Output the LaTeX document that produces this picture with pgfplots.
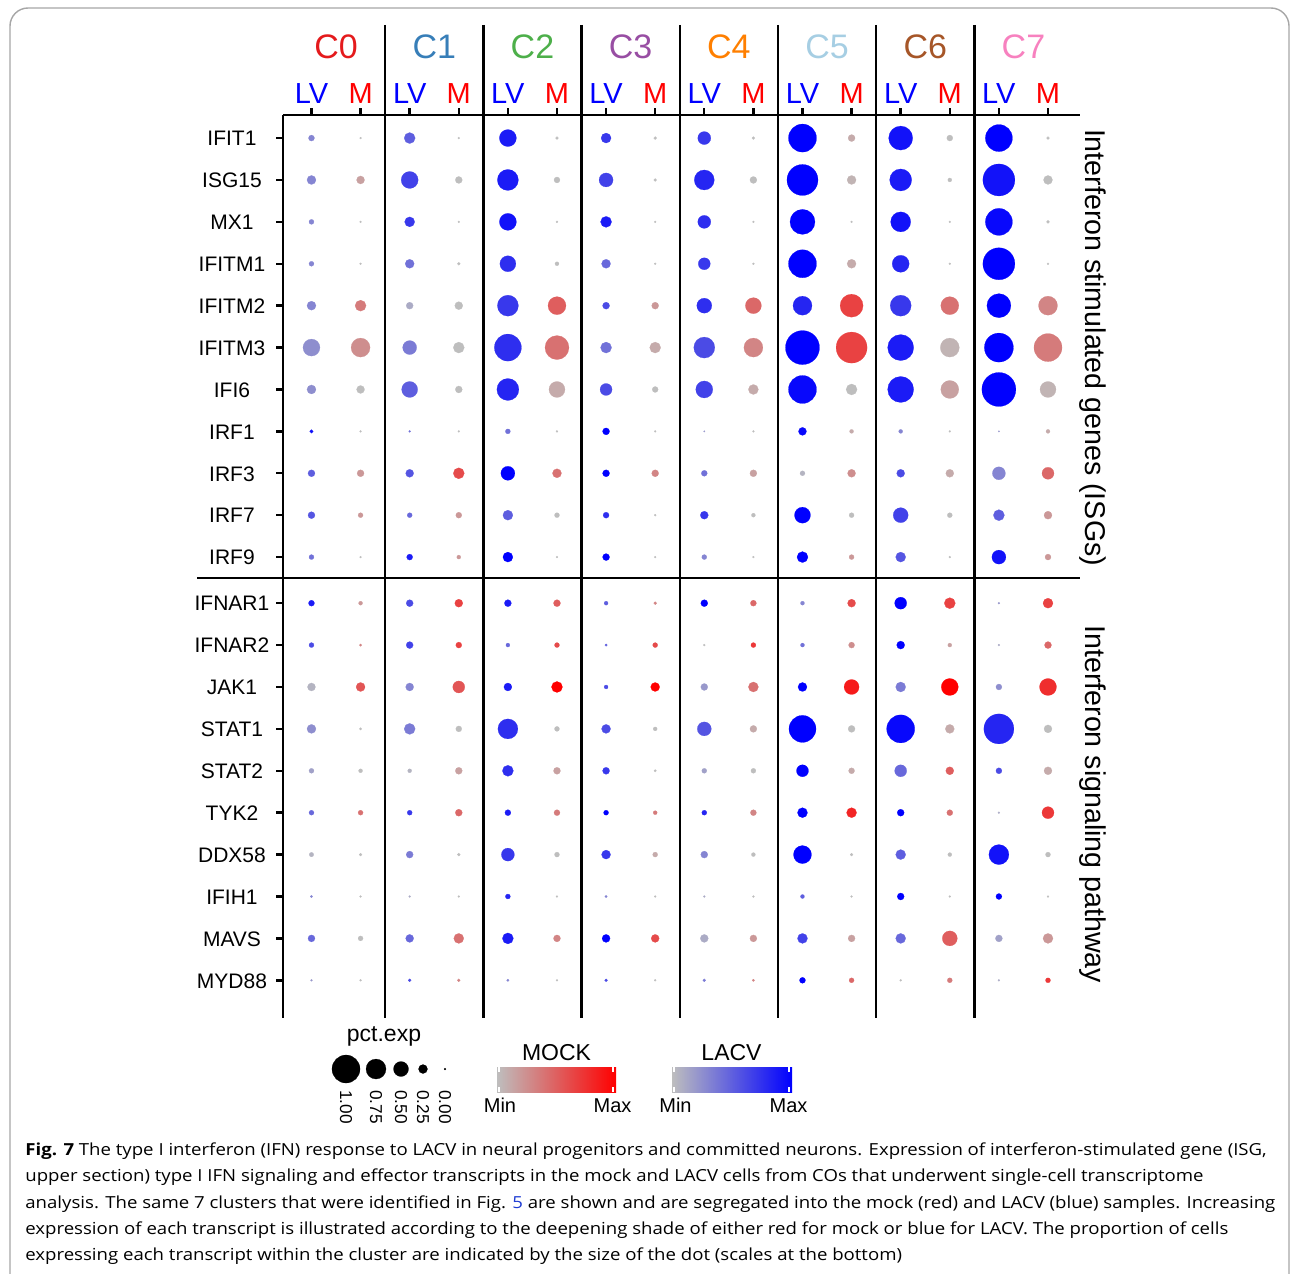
\documentclass[border=0pt]{standalone}
\usepackage{pgfplots}
\pgfplotsset{compat=1.18}
\usepackage{pgfplotstable}
\usepackage{fontspec}
\setmainfont{Liberation Sans}
\newfontfamily\capfont[FakeStretch=1.12]{Open Sans}
\definecolor{cc0}{RGB}{228,26,28}
\definecolor{cc1}{RGB}{55,126,184}
\definecolor{cc2}{RGB}{77,175,74}
\definecolor{cc3}{RGB}{152,78,163}
\definecolor{cc4}{RGB}{255,127,0}
\definecolor{cc5}{RGB}{166,206,227}
\definecolor{cc6}{RGB}{166,86,40}
\definecolor{cc7}{RGB}{247,129,191}
\definecolor{lvb}{RGB}{0,0,255}
\definecolor{mr}{RGB}{255,0,0}
\definecolor{gr}{RGB}{190,190,190}
\definecolor{linkblue}{RGB}{30,60,210}
\pgfplotsset{
  colormap={lvmap}{rgb255=(190,190,190) rgb255=(0,0,255)},
  colormap={mmap}{rgb255=(190,190,190) rgb255=(255,0,0)}
}
\tikzset{
  clab/.style={anchor=base, font=\fontsize{17}{20}\selectfont, inner sep=0pt},
  slab/.style={anchor=base, font=\fontsize{14.5}{17}\selectfont, inner sep=0pt},
  glab/.style={anchor=base, font=\fontsize{10.5}{12}\selectfont, inner sep=0pt, yshift=-3.9pt},
}
% r = row, cl = cluster, lvs/ms = dot diameter (px), lvc/mc = scaled expression (0..1)
\pgfplotstableread{
r cl lvs lvc ms mc
1 0 6 .3 2 0
1 1 11 .5 2 0
1 2 17 .85 3 0
1 3 10 .7 3 0
1 4 13 .7 3 0
1 5 28 1 7 .1
1 6 24 .9 6 0
1 7 27 1 3 0
2 0 9 .3 8 .15
2 1 17 .65 7 0
2 2 21 .85 6 0
2 3 14 .65 3 0
2 4 20 .8 7 0
2 5 31 1 9 .05
2 6 22 .85 4 0
2 7 32 .9 9 0
3 0 5 .3 2 0
3 1 10 .7 2 0
3 2 17 .9 2 0
3 3 11 .85 2 0
3 4 13 .75 2 0
3 5 25 1 2 0
3 6 20 .9 2 0
3 7 27 .95 3 0
4 0 5 .3 2 0
4 1 9 .4 3 0
4 2 16 .75 4 0
4 3 9 .45 2 0
4 4 12 .7 2 0
4 5 28 1 9 .1
4 6 17 .8 2 0
4 7 32 1 2 0
5 0 9 .3 11 .35
5 1 7 .1 8 0
5 2 21 .7 18 .5
5 3 7 .6 7 .2
5 4 15 .75 16 .45
5 5 19 .8 23 .65
5 6 21 .7 18 .4
5 7 24 1 19 .3
6 0 17 .25 19 .25
6 1 14 .35 11 0
6 2 27 .75 24 .4
6 3 11 .4 11 .1
6 4 21 .6 19 .3
6 5 34 1 31 .65
6 6 26 .85 19 .05
6 7 29 1 28 .35
7 0 9 .25 8 0
7 1 16 .5 7 0
7 2 22 .8 16 .1
7 3 12 .6 6 0
7 4 17 .65 10 .1
7 5 28 .95 11 0
7 6 26 .85 18 .15
7 7 34 1 16 .05
8 0 3.5 .9 2 0
8 1 2 .4 2 0
8 2 5 .4 2 0
8 3 7 1 2 0
8 4 1.5 .2 2 0
8 5 8 .95 4 .1
8 6 4 .3 2 0
8 7 1.5 .2 4 .1
9 0 7 .5 7 .2
9 1 8 .55 11 .6
9 2 14 1 9 .4
9 3 7 1 7 .3
9 4 6 .4 7 .15
9 5 5 .05 8 .25
9 6 8 .6 8 .1
9 7 13 .3 12 .45
10 0 7 .55 5 .2
10 1 5 .45 6 .2
10 2 10 .5 5 0
10 3 6 .75 2 0
10 4 8 .7 4 0
10 5 16 1 5 0
10 6 15 .65 5 0
10 7 11 .5 8 .2
11 0 5 .4 2 0
11 1 6 .85 4 .2
11 2 10 1 2 0
11 3 7 1 2 0
11 4 5 .3 2 0
11 5 11 1 5 .2
11 6 10 .55 2 0
11 7 14 .9 6 .2
12.1 0 6 .85 4 .2
12.1 1 7 .6 8 .65
12.1 2 7 .85 7 .5
12.1 3 4 .5 3 .3
12.1 4 7 1 6 .45
12.1 5 4 .3 8 .6
12.1 6 12 1 11 .65
12.1 7 2 .2 10 .65
13.1 0 5 .6 2.5 .3
13.1 1 7 .65 6 .65
13.1 2 4 .45 5 .6
13.1 3 2.5 .5 5 .6
13.1 4 2 0 5 .7
13.1 5 4 .4 6 .25
13.1 6 8 1 4 .15
13.1 7 2 .1 7 .45
14.1 0 8 .05 9 .55
14.1 1 8 .3 12 .55
14.1 2 8 .85 11 1
14.1 3 4 .6 9 1
14.1 4 7 .2 10 .4
14.1 5 9 1 15 .85
14.1 6 10 .35 17 1
14.1 7 6 .25 17 .75
15.1 0 9 .25 2.5 0
15.1 1 11 .35 6 0
15.1 2 20 .75 5 0
15.1 3 9 .6 4 0
15.1 4 14 .55 7 .1
15.1 5 27 1 7 0
15.1 6 28 .95 9 .1
15.1 7 30 .8 8 0
16.1 0 5 .15 4 0
16.1 1 4 .05 7 .15
16.1 2 11 .75 7 .15
16.1 3 7 .7 2.5 0
16.1 4 5 .15 5 0
16.1 5 12 1 6 .1
16.1 6 12 .45 8 .5
16.1 7 6 .6 8 .1
17.1 0 5 .45 5 .4
17.1 1 5 .7 7 .45
17.1 2 6 .85 6 .35
17.1 3 5 1 4 .35
17.1 4 5 .8 6 .3
17.1 5 10 1 10 .8
17.1 6 7 1 6 .4
17.1 7 2 .1 12 .7
18.1 0 4.5 .05 3 0
18.1 1 7 .35 3 0
18.1 2 13 .7 5 0
18.1 3 9 .7 5 .1
18.1 4 7 .3 4 0
18.1 5 18 1 3 0
18.1 6 10 .5 4 0
18.1 7 20 .9 5 0
19.1 0 2.5 .3 2 0
19.1 1 2 .1 2 0
19.1 2 5 .8 2 0
19.1 3 2.5 .3 2 0
19.1 4 2 .1 2 0
19.1 5 4 .5 2 0
19.1 6 7 1 2 0
19.1 7 6 1 2 0
20.1 0 7 .45 5 0
20.1 1 8 .45 10 .4
20.1 2 11 .85 7 .3
20.1 3 8 1 8 .6
20.1 4 8 .1 7 .2
20.1 5 10 .65 7 .15
20.1 6 10 .45 15 .5
20.1 7 7 .15 10 .2
21.1 0 2 .2 2 0
21.1 1 3 .6 3 .3
21.1 2 2.5 .3 2 0
21.1 3 3 .6 2 0
21.1 4 3 .35 2.5 .3
21.1 5 6 1 5 .45
21.1 6 2 0 5 .35
21.1 7 2 .1 5 .7
}\dotdata
\pgfplotstableread{
x y d
346 1069 28
376 1069 20
401 1069 15
423 1069 9
445 1069 2
}\sizedata
\begin{document}
\begin{tikzpicture}
\begin{scope}[x=0.5pt,y=-0.5pt]
\path[use as bounding box] (0,0) rectangle (1292,1274);
\draw[black!35, line width=0.7pt, rounded corners=9pt] (10,8) rectangle (1289,1330);
\end{scope}
% main dot plot
\begin{axis}[
  at={(141.5pt,-509pt)}, anchor=south west,
  scale only axis, width=396pt, height=451.5pt,
  xmin=0.42, xmax=16.55, ymin=0.45, ymax=22.0, y dir=reverse,
  axis line style={draw=none}, clip=false,
  xtick={1,...,16}, xticklabels={}, xtick pos=upper,
  ytick={1,2,3,4,5,6,7,8,9,10,11,12.1,13.1,14.1,15.1,16.1,17.1,18.1,19.1,20.1,21.1},
  yticklabels={}, ytick pos=left,
  tick align=outside, major tick length=3.3pt,
  tick style={line width=1.2pt, black},
  point meta min=0, point meta max=1,
]
\addplot[scatter, only marks, mark=*, colormap name=lvmap,
  point meta=\thisrow{lvc},
  visualization depends on={\thisrow{lvs}\as\dsz},
  scatter/use mapped color={draw=mapped color, fill=mapped color},
  scatter/@pre marker code/.append style={/tikz/mark size={\dsz*0.25pt}},
  mark options={line width=0.1pt}]
  table[x expr={2*\thisrow{cl}+1}, y=r]{\dotdata};
\addplot[scatter, only marks, mark=*, colormap name=mmap,
  point meta=\thisrow{mc},
  visualization depends on={\thisrow{ms}\as\dsz},
  scatter/use mapped color={draw=mapped color, fill=mapped color},
  scatter/@pre marker code/.append style={/tikz/mark size={\dsz*0.25pt}},
  mark options={line width=0.1pt}]
  table[x expr={2*\thisrow{cl}+2}, y=r]{\dotdata};
% frame lines
\draw[line width=1.2pt] (axis cs:0.42,0.45) -- (axis cs:0.42,22);
\draw[line width=1.2pt] (axis cs:0.42,0.45) -- (axis cs:16.65,0.45);
\draw[line width=1.2pt] (axis cs:-1.33,11.5) -- (axis cs:16.65,11.5);
\pgfplotsinvokeforeach{2.5,4.5,6.5,8.5,10.5,12.5,14.5}{
  \draw[line width=1.2pt] (axis cs:#1,-1.70) -- (axis cs:#1,22);
}
% cluster and sample labels
\node[clab, text=cc0] at (axis cs:1.5,-0.909) {C0};
\node[clab, text=cc1] at (axis cs:3.5,-0.909) {C1};
\node[clab, text=cc2] at (axis cs:5.5,-0.909) {C2};
\node[clab, text=cc3] at (axis cs:7.5,-0.909) {C3};
\node[clab, text=cc4] at (axis cs:9.5,-0.909) {C4};
\node[clab, text=cc5] at (axis cs:11.5,-0.909) {C5};
\node[clab, text=cc6] at (axis cs:13.5,-0.909) {C6};
\node[clab, text=cc7] at (axis cs:15.5,-0.909) {C7};
\pgfplotsinvokeforeach{1,3,5,7,9,11,13,15}{
  \node[slab, text=lvb] at (axis cs:#1,0.165) {LV};
}
\pgfplotsinvokeforeach{2,4,6,8,10,12,14,16}{
  \node[slab, text=mr] at (axis cs:#1,0.165) {M};
}
% gene labels
\foreach \yy/\g in {1/IFIT1,2/ISG15,3/MX1,4/IFITM1,5/IFITM2,6/IFITM3,7/IFI6,8/IRF1,9/IRF3,10/IRF7,11/IRF9,12.1/IFNAR1,13.1/IFNAR2,14.1/JAK1,15.1/STAT1,16.1/STAT2,17.1/TYK2,18.1/DDX58,19.1/IFIH1,20.1/MAVS,21.1/MYD88}{
  \edef\tmp{\noexpand\node[glab] at (axis cs:-0.619,\yy) {\g};}\tmp
}
\node[rotate=-90, font=\fontsize{14.3}{17}\selectfont, inner sep=0pt] at (axis cs:16.91,6) {Interferon stimulated genes (ISGs)};
\node[rotate=-90, font=\fontsize{14.3}{17}\selectfont, inner sep=0pt] at (axis cs:16.91,16.9) {Interferon signaling pathway};
\end{axis}
% size legend
\begin{axis}[
  at={(0pt,0pt)}, anchor=north west, scale only axis, width=646pt, height=637pt,
  xmin=0, xmax=1292, ymin=0, ymax=1274, y dir=reverse, hide axis, clip=false,
  point meta min=0, point meta max=30]
\addplot[scatter, only marks, mark=*, point meta=\thisrow{d},
  visualization depends on={\thisrow{d}\as\dsz},
  scatter/use mapped color={draw=black, fill=black},
  scatter/@pre marker code/.append style={/tikz/mark size={\dsz*0.25pt}},
  mark options={line width=0.1pt}]
  table[x=x, y=y]{\sizedata};
\end{axis}
\begin{scope}[x=0.5pt,y=-0.5pt]
\node[anchor=base, font=\fontsize{11.5}{13}\selectfont, inner sep=0pt] at (384,1041) {pct.exp};
\foreach \xx/\lab in {346/1.00,376/0.75,401/0.50,423/0.25,445/0.00}{
  \node[rotate=-90, anchor=west, font=\fontsize{8.6}{10}\selectfont, inner sep=0pt] at (\xx,1090) {\lab};
}
\node[anchor=base, font=\fontsize{11.5}{13}\selectfont, inner sep=0pt] at (556.5,1060) {MOCK};
\node[anchor=base, font=\fontsize{11.5}{13}\selectfont, inner sep=0pt] at (731.5,1060) {LACV};
\shade[left color=gr, right color=mr] (497,1067) rectangle (616,1092);
\shade[left color=gr, right color=lvb] (672,1067) rectangle (792,1092);
\foreach \xx in {499,613,674,789}{
  \draw[white, line width=0.6pt] (\xx,1067) -- (\xx,1072);
  \draw[white, line width=0.6pt] (\xx,1087) -- (\xx,1092);
}
\foreach \xx/\lab in {500/Min,612.5/Max,675.5/Min,788.5/Max}{
  \node[anchor=base, font=\fontsize{10}{12}\selectfont, inner sep=0pt] at (\xx,1112) {\lab};
}
% caption
\begin{scope}[every node/.style={anchor=base west, inner sep=0pt, font=\capfont\fontsize{8.3}{10}\selectfont}]
\node at (25,1155) {\textbf{Fig. 7} The type I interferon (IFN) response to LACV in neural progenitors and committed neurons. Expression of interferon-stimulated gene (ISG,};
\node at (25,1181.5) {upper section) type I IFN signaling and effector transcripts in the mock and LACV cells from COs that underwent single-cell transcriptome};
\node at (25,1208) {analysis. The same 7 clusters that were identified in Fig. \textcolor{linkblue}{5} are shown and are segregated into the mock (red) and LACV (blue) samples. Increasing};
\node at (25,1234) {expression of each transcript is illustrated according to the deepening shade of either red for mock or blue for LACV. The proportion of cells};
\node at (25,1260.5) {expressing each transcript within the cluster are indicated by the size of the dot (scales at the bottom)};
\end{scope}
\end{scope}
\end{tikzpicture}
\end{document}
